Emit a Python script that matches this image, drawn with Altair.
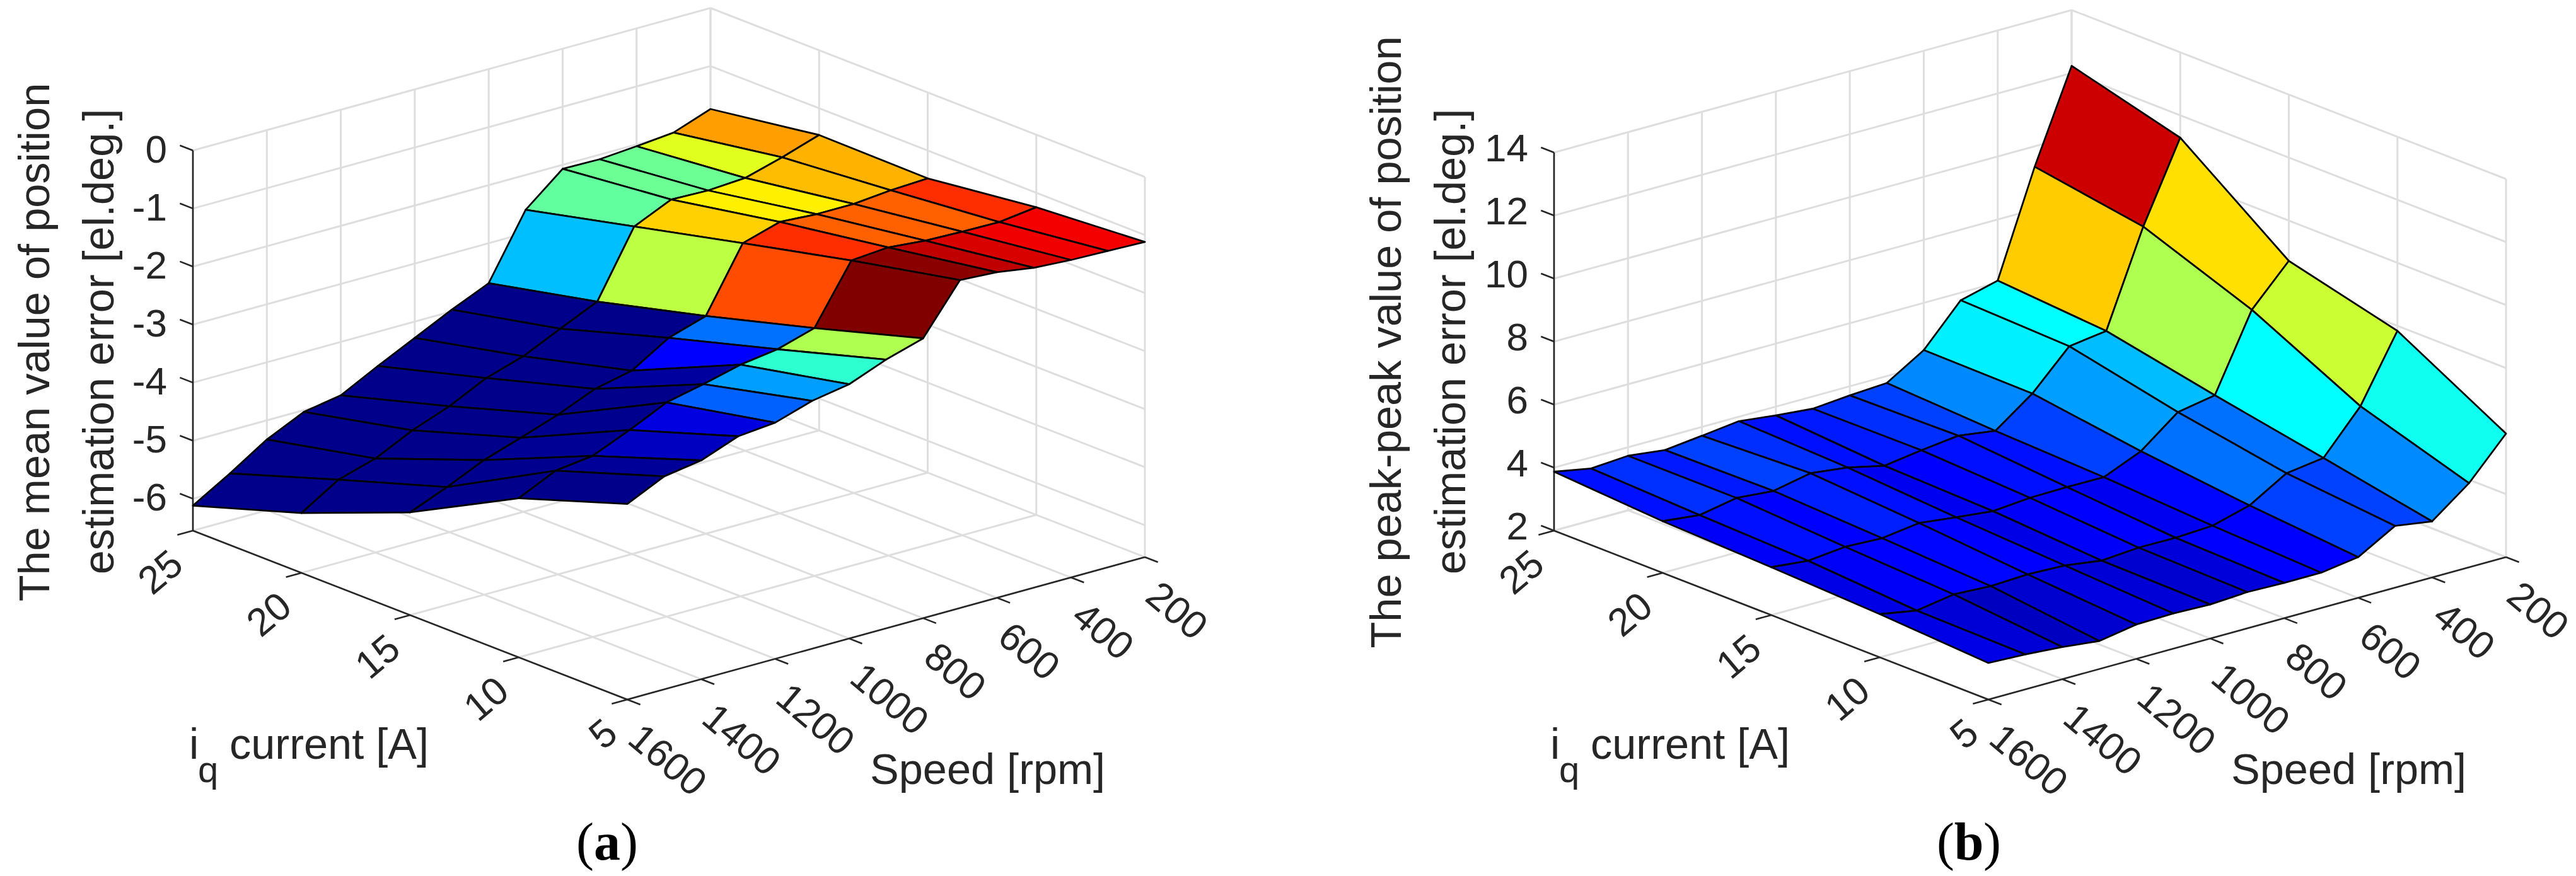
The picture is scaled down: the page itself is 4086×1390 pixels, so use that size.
import altair as alt
import pandas as pd

W, H = 4086, 1390
MARGIN = 8
FONT = "Liberation Sans"
SERIF = "Liberation Serif"

IQ = [25, 20, 15, 10, 5]
SPEED = [1600, 1500, 1400, 1300, 1200, 1100, 1000, 900, 800, 700, 600, 500, 400, 300, 200]
IQ_TICKS = [25, 20, 15, 10, 5]
SPEED_TICKS = [1600, 1400, 1200, 1000, 800, 600, 400, 200]

# surface heights: one list per iq current, running along SPEED
MEAN_25 = [-6.12, -5.74, -5.33, -5.03, -4.92, -4.59, -4.28, -3.97, -3.69, -2.60, -2.07, -2.08, -2.03, -1.97, -1.74]
MEAN_20 = [-5.52, -5.12, -4.93, -4.62, -4.38, -4.07, -3.87, -3.57, -3.28, -2.16, -1.87, -1.89, -1.85, -1.67, -1.46]
MEAN_15 = [-4.78, -4.52, -4.23, -4.02, -3.80, -3.53, -3.39, -3.00, -2.80, -1.72, -1.53, -1.57, -1.57, -1.51, -1.48]
MEAN_10 = [-3.81, -3.51, -3.43, -3.16, -2.86, -2.72, -2.56, -2.47, -2.28, -1.29, -1.24, -1.30, -1.32, -1.33, -1.25]
MEAN_05 = [-3.18, -2.88, -2.78, -2.54, -2.48, -2.28, -2.17, -1.92, -1.73, -0.90, -0.94, -1.04, -1.08, -1.10, -1.12]

PEAK_25 = [3.87, 3.65, 3.73, 3.59, 3.72, 3.86, 3.72, 3.61, 3.71, 3.78, 4.50, 5.76, 6.06, 9.35, 12.23]
PEAK_20 = [3.64, 3.51, 3.73, 3.63, 3.87, 3.73, 3.46, 3.63, 3.77, 3.60, 4.46, 5.64, 5.80, 8.79, 11.29]
PEAK_15 = [3.52, 3.40, 3.52, 3.47, 3.63, 3.49, 3.36, 3.46, 3.48, 3.47, 3.97, 4.89, 5.10, 7.49, 8.72]
PEAK_10 = [3.37, 3.16, 3.35, 3.29, 3.34, 3.30, 3.13, 3.22, 3.21, 3.27, 3.59, 4.29, 4.45, 5.77, 7.84]
PEAK_05 = [3.16, 3.11, 3.02, 2.89, 3.09, 3.12, 3.08, 3.15, 3.12, 3.12, 3.29, 3.96, 3.78, 4.67, 5.92]

# colour level of each facet (0..1 on the jet map)
MEAN_C_0 = [0.01, 0.01, 0.01, 0.01, 0.01, 0.01, 0.01, 0.01, 0.3125, 0.47, 0.48, 0.48, 0.595, 0.72]
MEAN_C_1 = [0.01, 0.01, 0.01, 0.01, 0.01, 0.01, 0.01, 0.01, 0.56, 0.67, 0.64, 0.64, 0.69, 0.70]
MEAN_C_2 = [0.01, 0.015, 0.02, 0.015, 0.01, 0.03, 0.125, 0.235, 0.80, 0.83, 0.78, 0.78, 0.78, 0.83]
MEAN_C_3 = [0.01, 0.025, 0.0625, 0.094, 0.22, 0.28, 0.42, 0.547, 1.0, 0.99, 0.9375, 0.9125, 0.89, 0.885]

PEAK_C_0 = [0.14, 0.172, 0.15, 0.1875, 0.17, 0.14, 0.15, 0.17, 0.1875, 0.258, 0.36, 0.375, 0.675, 0.925]
PEAK_C_1 = [0.12, 0.14, 0.125, 0.155, 0.14, 0.11, 0.125, 0.14, 0.14, 0.1875, 0.28, 0.31, 0.547, 0.655]
PEAK_C_2 = [0.10, 0.12, 0.125, 0.13, 0.125, 0.10, 0.12, 0.125, 0.11, 0.13, 0.235, 0.235, 0.375, 0.575]
PEAK_C_3 = [0.10, 0.085, 0.0625, 0.078, 0.094, 0.085, 0.078, 0.09, 0.125, 0.125, 0.1875, 0.19, 0.26, 0.39]

JET_POS = [0, 0.125, 0.375, 0.625, 0.875, 1]
JET_HEX = ["#000080", "#0000ff", "#00ffff", "#ffff00", "#ff0000", "#800000"]

X_SCALE = alt.Scale(domain=[MARGIN, W - MARGIN], nice=False, zero=False)
Y_SCALE = alt.Scale(domain=[H - MARGIN, MARGIN], nice=False, zero=False)
X = lambda f="x": alt.X(f, type="quantitative", scale=X_SCALE, axis=None)
Y = lambda f="y": alt.Y(f, type="quantitative", scale=Y_SCALE, axis=None)


def segs(rows):
    return pd.DataFrame(rows, columns=["x", "y", "x2", "y2"])


def rules(rows, color, width):
    return alt.Chart(segs(rows)).mark_rule(color=color, strokeWidth=width).encode(
        x=X(), y=Y(), x2="x2:Q", y2="y2:Q"
    )


def text(rows, size=62, **kw):
    kw.setdefault("font", FONT)
    kw.setdefault("color", "#262626")
    return alt.Chart(pd.DataFrame(rows, columns=["x", "y", "t"])).mark_text(fontSize=size, **kw).encode(
        x=X(), y=Y(), text="t:N"
    )


def panel(x0, z_rows, c_rows, z_low, z_ticks, z_px, z_axis_labels, z_dy, title1, title2, tag, tag_cx, tag_half):
    y0 = 842
    def pr(i, s, z):
        u = (25 - i) / 20
        v = (1600 - s) / 1400
        return (x0 + 689 * u + 821 * v, y0 + 268 * u - 226 * v - (z - z_low) * z_px)

    z_high = z_ticks[-1]
    grid, axes = [], []
    for s in SPEED_TICKS:
        grid.append([*pr(25, s, z_low), *pr(25, s, z_high)])
        grid.append([*pr(25, s, z_low), *pr(5, s, z_low)])
    for i in IQ_TICKS:
        grid.append([*pr(i, 200, z_low), *pr(i, 200, z_high)])
        grid.append([*pr(i, 200, z_low), *pr(i, 1600, z_low)])
    for z in z_ticks:
        grid.append([*pr(25, 1600, z), *pr(25, 200, z)])
        grid.append([*pr(25, 200, z), *pr(5, 200, z)])

    axes.append([*pr(25, 1600, z_low), *pr(25, 1600, z_high)])
    axes.append([*pr(25, 1600, z_low), *pr(5, 1600, z_low)])
    axes.append([*pr(5, 1600, z_low), *pr(5, 200, z_low)])
    zl, il, sl = [], [], []
    tick = 0.03
    for z, lab in zip(z_ticks, z_axis_labels):
        a = pr(25, 1600, z)
        axes.append([*a, a[0] - 689 * tick, a[1] - 268 * tick])
        zl.append([a[0] - 41, a[1] + z_dy, lab])
    for i in IQ_TICKS:
        a = pr(i, 1600, z_low)
        axes.append([*a, a[0] - 821 * tick, a[1] + 226 * tick])
        il.append([a[0] - 24, a[1] + 45, str(i)])
    for s in SPEED_TICKS:
        a = pr(5, s, z_low)
        axes.append([*a, a[0] + 689 * tick, a[1] + 268 * tick])
        sl.append([a[0] + 10, a[1] + 53, str(s)])

    cells = []
    cid = 0
    for k in range(len(SPEED) - 2, -1, -1):
        for j in range(len(IQ) - 1):
            corners = [(j, k), (j + 1, k), (j + 1, k + 1), (j, k + 1)]
            for vi, (a, b) in enumerate(corners):
                px, py = pr(IQ[a], SPEED[b], z_rows[a][b])
                cells.append(dict(x=px, y=py, vi=vi, cell=cid, c=c_rows[j][k]))
            cid += 1
    surface = alt.Chart(pd.DataFrame(cells)).mark_line(
        interpolate="linear-closed", stroke="black", strokeWidth=2.8, strokeJoin="round"
    ).encode(
        x=X(), y=Y(), order="vi:Q", detail="cell:N",
        fill=alt.Fill("c:Q", scale=alt.Scale(domain=JET_POS, range=JET_HEX, interpolate="rgb"), legend=None),
    )
    layers = [rules(grid, "#dedede", 3), rules(axes, "#262626", 2.6), surface]
    layers += [
        text(zl, align="right", baseline="middle"),
        text(il, align="right", baseline="middle", angle=320),
        text(sl, align="left", baseline="middle", angle=40),
    ]
    layers += [
        text([[title1[0], title1[1], title1[2]], [title2[0], title2[1], title2[2]]], size=68.5,
             align="center", baseline="middle", angle=270),
        text([[x0 - 6, 1183, "i"]], size=68.5, align="left", baseline="middle"),
        text([[x0 + 8, 1224, "q"]], size=58, align="left", baseline="middle"),
        text([[x0 + 58, 1183, "current [A]"]], size=68.5, align="left", baseline="middle"),
        text([[x0 + 1074, 1223, "Speed [rpm]"]], size=68.5, align="left", baseline="middle"),
        text([[tag_cx - tag_half, 1339, "("], ], size=84, font=SERIF, color="black", align="right", baseline="middle"),
        text([[tag_cx, 1339, tag]], size=84, font=SERIF, color="black", fontWeight="bold", align="center", baseline="middle"),
        text([[tag_cx + tag_half, 1339, ")"]], size=84, font=SERIF, color="black", align="left", baseline="middle"),
    ]
    return layers


left = panel(
    306,
    [MEAN_25, MEAN_20, MEAN_15, MEAN_10, MEAN_05],
    [MEAN_C_0, MEAN_C_1, MEAN_C_2, MEAN_C_3],
    -6.55, [-6, -5, -4, -3, -2, -1, 0], 92.1,
    ["-6", "-5", "-4", "-3", "-2", "-1", "0"], 0,
    (57, 543, "The mean value of position"),
    (159, 542, "estimation error [el.deg.]"),
    "a", 963, 21,
)
right = panel(
    2465,
    [PEAK_25, PEAK_20, PEAK_15, PEAK_10, PEAK_05],
    [PEAK_C_0, PEAK_C_1, PEAK_C_2, PEAK_C_3],
    2, [2, 4, 6, 8, 10, 12, 14], 50.0,
    ["2", "4", "6", "8", "10", "12", "14"], -5,
    (2201, 543, "The peak-peak value of position"),
    (2303, 542, "estimation error [el.deg.]"),
    "b", 3123, 23,
)

chart = alt.layer(*left, *right).properties(
    width=W - 2 * MARGIN, height=H - 2 * MARGIN, padding=0,
    autosize=alt.AutoSizeParams(type="none"),
).configure_view(stroke=None)

chart.save("out.html", embed_options={"renderer": "svg", "actions": False})
